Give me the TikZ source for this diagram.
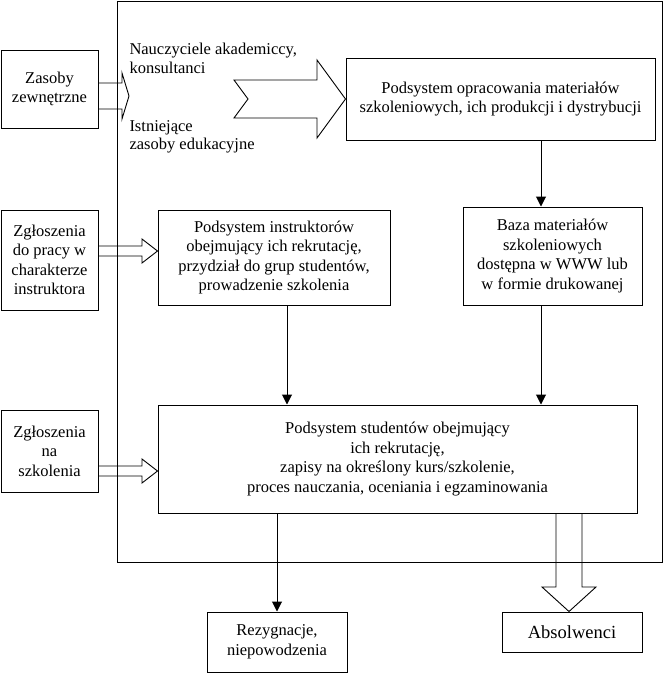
\documentclass[tikz,border=0pt]{standalone}
\usepackage{fontspec}
\setmainfont{Liberation Serif}
\usetikzlibrary{arrows.meta,positioning,calc}
\tikzset{
  box/.style={rectangle,draw,align=center,inner sep=2pt,
    font=\fontsize{16.5}{19.5}\selectfont},
  note/.style={align=left,inner sep=0pt,anchor=north west,
    font=\fontsize{16.5}{18.5}\selectfont},
  arrow/.style={-{Triangle[length=10pt,width=10pt]},line width=1pt},
  hollow/.style={line width=0.9pt,line join=miter},
}

\begin{document}
\begin{tikzpicture}[x=1pt,y=-1pt,line width=1pt]
\useasboundingbox (0,0) rectangle (669,681);
\node[draw,inner sep=0pt,minimum width=545pt,minimum height=561pt] (ramka) at (389.5,281.5) {};

\node[box,minimum width=97pt,minimum height=78pt] (zasoby) at (49.5,89) {Zasoby\\zewnętrzne};
\node[box,minimum width=97pt,minimum height=100pt] (zglinstr) at (49.5,260) {Zgłoszenia\\do pracy w\\charakterze\\instruktora};
\node[box,minimum width=97pt,minimum height=82pt] (zglszkol) at (49.5,451) {Zgłoszenia\\na\\szkolenia};

\node[note] (nauczyciele) at (129,43) {Nauczyciele akademiccy,\\konsultanci};
\node[note] (istniejace) at (129,120) {Istniejące\\zasoby edukacyjne};

\node[box,minimum width=309pt,minimum height=82pt] (opracowanie) at (500.5,99) {Podsystem opracowania materiałów\\szkoleniowych, ich produkcji i dystrybucji};
\node[box,minimum width=179pt,minimum height=98pt] (baza) at (552.5,256) {Baza materiałów\\szkoleniowych\\dostępna w WWW lub\\w formie drukowanej};
\node[box,minimum width=232pt,minimum height=95pt] (instruktor) at (274,257.5) {Podsystem instruktorów\\obejmujący ich rekrutację,\\przydział do grup studentów,\\prowadzenie szkolenia};
\node[box,minimum width=479pt,minimum height=108pt] (student) at (397.5,459) {Podsystem studentów obejmujący\\ich rekrutację,\\zapisy na określony kurs/szkolenie,\\proces nauczania, oceniania i egzaminowania};
\node[box,minimum width=140pt,minimum height=60pt] (rezygnacje) at (277,642) {Rezygnacje,\\niepowodzenia};
\node[box,minimum width=140pt,minimum height=40pt,font=\fontsize{18.5}{21}\selectfont] (absolwenci) at (572,632) {Absolwenci};

% puste strzalki
\draw[hollow] (zasoby.east |- 0,83) -- (122,83) -- (122,73) -- (129,96)
  -- (122,119) -- (122,109) -- (zasoby.east |- 0,109);
\draw[hollow] (234,80) -- (317,80) -- (317,60) -- (opracowanie.west)
  -- (317,138) -- (317,118) -- (234,118) -- (248,99) -- cycle;
\draw[hollow] (zglinstr.east |- 0,246) -- (142,246) -- (142,239) -- (instruktor.west |- 0,251)
  -- (142,263) -- (142,256) -- (zglinstr.east |- 0,256);
\draw[hollow] (zglszkol.east |- 0,466) -- (142,466) -- (142,459) -- (student.west |- 0,471)
  -- (142,483) -- (142,476) -- (zglszkol.east |- 0,476);
\draw[hollow] (student.south -| 556,0) -- (556,587) -- (542,587) -- (absolwenci.north -| 569,0)
  -- (596,587) -- (582,587) -- (student.south -| 582,0);

% strzalki
\draw[arrow] (opracowanie.south -| 541,0) -- (baza.north -| 541,0);
\draw[arrow] (instruktor.south -| 287,0) -- (student.north -| 287,0);
\draw[arrow] (baza.south -| 541,0) -- (student.north -| 541,0);
\draw[arrow] (student.south -| rezygnacje) -- (rezygnacje);
\end{tikzpicture}
\end{document}
